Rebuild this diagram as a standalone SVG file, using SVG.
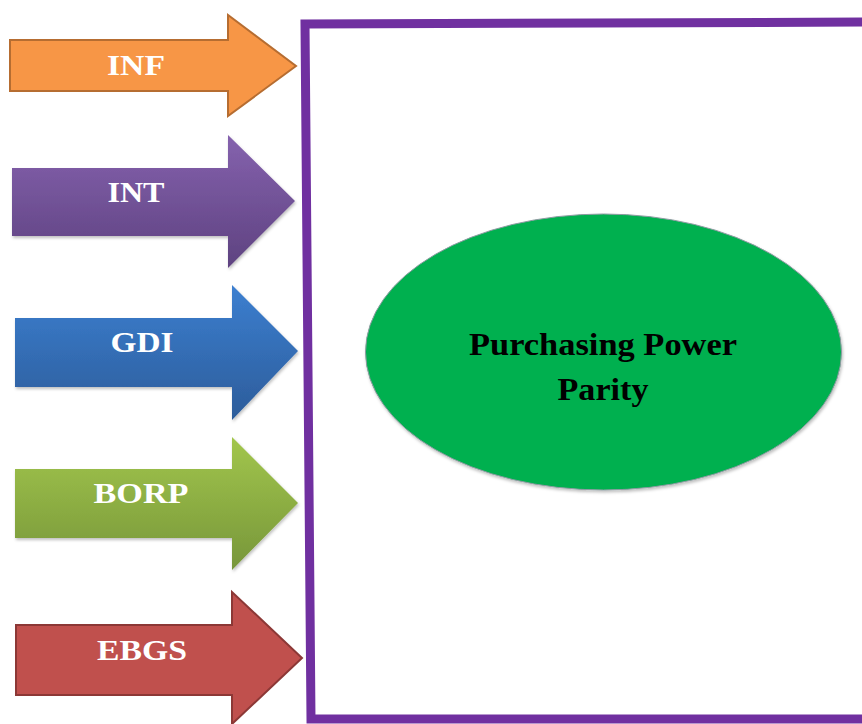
<svg xmlns="http://www.w3.org/2000/svg" width="862" height="724" viewBox="0 0 862 724">
<defs>
<linearGradient id="gInt" x1="0" y1="0" x2="0" y2="1"><stop offset="0" stop-color="#8562AE"/><stop offset="1" stop-color="#5E4280"/></linearGradient>
<linearGradient id="gGdi" x1="0" y1="0" x2="0" y2="1"><stop offset="0" stop-color="#3C7FD0"/><stop offset="1" stop-color="#2C5C9A"/></linearGradient>
<linearGradient id="gBorp" x1="0" y1="0" x2="0" y2="1"><stop offset="0" stop-color="#A2C64C"/><stop offset="1" stop-color="#77963A"/></linearGradient>
<filter id="sh" x="-10%" y="-10%" width="120%" height="130%"><feDropShadow dx="1" dy="2" stdDeviation="1.5" flood-color="#000" flood-opacity="0.25"/></filter>
</defs>
<style>
.lbl{font-family:"Liberation Serif","Times New Roman",serif;font-weight:bold;font-size:30px;fill:#fff;text-anchor:middle}
.ctr{font-family:"Liberation Serif","Times New Roman",serif;font-weight:bold;font-size:32px;fill:#000;text-anchor:middle}
</style>
<rect width="862" height="724" fill="#fff"/>
<g id="frame">
<path d="M870,22 L305,24 L311,719 L870,719" fill="none" stroke="#7030A0" stroke-width="9" stroke-linejoin="miter"/>
</g>
<g id="ppp">
<ellipse cx="603.5" cy="352" rx="238" ry="138" fill="#00B050" stroke="#8C9AA0" stroke-width="1" filter="url(#sh)"/>
<text class="ctr" x="603" y="355" textLength="268" lengthAdjust="spacingAndGlyphs">Purchasing Power</text>
<text class="ctr" x="603" y="400" textLength="91" lengthAdjust="spacingAndGlyphs">Parity</text>
</g>
<g id="connectors">
<g id="inf">
<path d="M10,40 L228,40 L228,15 L296,66 L228,116 L228,91 L10,91 Z" fill="#F79646" stroke="#B66D31" stroke-width="2"/>
<text class="lbl" x="136" y="75" textLength="58" lengthAdjust="spacingAndGlyphs">INF</text>
</g>
<g id="int">
<path d="M12,168 L228,168 L228,135 L295,201 L228,268 L228,236 L12,236 Z" fill="url(#gInt)" filter="url(#sh)"/>
<text class="lbl" x="136" y="202" textLength="57" lengthAdjust="spacingAndGlyphs">INT</text>
</g>
<g id="gdi">
<path d="M15,318 L232,318 L232,285 L298,351 L232,420 L232,387 L15,387 Z" fill="url(#gGdi)" filter="url(#sh)"/>
<text class="lbl" x="142" y="352" textLength="63" lengthAdjust="spacingAndGlyphs">GDI</text>
</g>
<g id="borp">
<path d="M15,469 L232,469 L232,437 L298,503 L232,570 L232,538 L15,538 Z" fill="url(#gBorp)" filter="url(#sh)"/>
<text class="lbl" x="141" y="503" textLength="95" lengthAdjust="spacingAndGlyphs">BORP</text>
</g>
<g id="ebgs">
<path d="M16,625 L232,625 L232,592 L302,658 L232,724 L232,695 L16,695 Z" fill="#C0504D" stroke="#8C3836" stroke-width="2"/>
<text class="lbl" x="142" y="660" textLength="90" lengthAdjust="spacingAndGlyphs">EBGS</text>
</g>
</g>
</svg>
